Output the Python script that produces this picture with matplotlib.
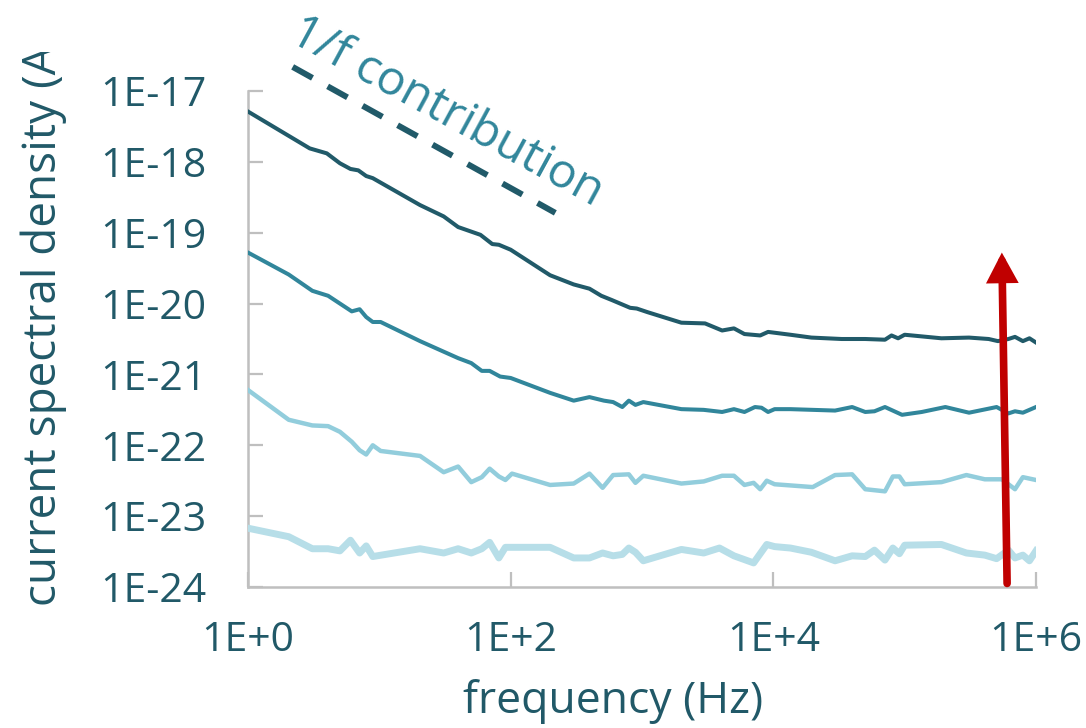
import numpy as np
import matplotlib
matplotlib.use("Agg")
import matplotlib.pyplot as plt
from matplotlib.ticker import FixedLocator, FuncFormatter, NullLocator
from matplotlib.transforms import Bbox, TransformedBbox

plt.rcParams["font.family"] = ["Open Sans", "DejaVu Sans"]

# values, stored as log10 (decades)
f1 = [0.00, 0.47, 0.60, 0.70, 0.78, 0.84, 0.90, 0.95, 1.31, 1.49, 1.60, 1.77, 1.86, 1.91,
      2.00, 2.30, 2.48, 2.60, 2.69, 2.77, 2.91, 2.96, 3.04, 3.30, 3.48, 3.61, 3.70, 3.78,
      3.90, 3.96, 4.13, 4.29, 4.52, 4.70, 4.85, 4.90, 4.95, 5.00, 5.28, 5.49, 5.64, 5.71,
      5.79, 5.84, 5.90, 5.95, 6.00]
s1 = [-17.29, -17.81, -17.88, -18.02, -18.10, -18.12, -18.20, -18.23, -18.61, -18.77,
      -18.92, -19.03, -19.16, -19.17, -19.24, -19.60, -19.73, -19.79, -19.89, -19.95,
      -20.06, -20.07, -20.12, -20.27, -20.28, -20.38, -20.35, -20.43, -20.45, -20.40,
      -20.44, -20.48, -20.50, -20.50, -20.51, -20.45, -20.49, -20.44, -20.49, -20.48,
      -20.50, -20.53, -20.50, -20.47, -20.53, -20.49, -20.55]

f2 = [0.00, 0.31, 0.49, 0.61, 0.70, 0.79, 0.85, 0.90, 0.95, 1.01, 1.31, 1.60, 1.70, 1.78,
      1.84, 1.92, 2.00, 2.30, 2.48, 2.60, 2.71, 2.78, 2.85, 2.90, 2.95, 3.01, 3.30, 3.47,
      3.61, 3.70, 3.78, 3.86, 3.91, 3.96, 4.01, 4.13, 4.47, 4.60, 4.70, 4.77, 4.85, 4.98,
      5.13, 5.31, 5.49, 5.70, 5.79, 5.84, 5.90, 6.00]
s2 = [-19.28, -19.59, -19.82, -19.89, -20.00, -20.11, -20.08, -20.19, -20.26, -20.26,
      -20.53, -20.77, -20.84, -20.95, -20.95, -21.03, -21.05, -21.26, -21.37, -21.32,
      -21.37, -21.39, -21.46, -21.37, -21.43, -21.39, -21.49, -21.50, -21.53, -21.49,
      -21.53, -21.46, -21.47, -21.53, -21.49, -21.49, -21.51, -21.46, -21.53, -21.52,
      -21.46, -21.57, -21.53, -21.46, -21.54, -21.46, -21.55, -21.52, -21.54, -21.46]

f3 = [0.00, 0.31, 0.49, 0.61, 0.70, 0.79, 0.85, 0.90, 0.95, 1.01, 1.31, 1.49, 1.60, 1.70,
      1.78, 1.84, 1.91, 1.96, 2.01, 2.30, 2.48, 2.60, 2.70, 2.78, 2.90, 2.95, 3.01, 3.30,
      3.47, 3.61, 3.70, 3.78, 3.85, 3.90, 3.95, 4.01, 4.30, 4.47, 4.60, 4.70, 4.85, 4.91,
      4.96, 5.00, 5.28, 5.47, 5.61, 5.74, 5.84, 5.90, 6.00]
s3 = [-21.22, -21.64, -21.72, -21.73, -21.81, -21.95, -22.07, -22.13, -22.00, -22.08,
      -22.15, -22.38, -22.30, -22.52, -22.45, -22.33, -22.44, -22.49, -22.40, -22.56,
      -22.54, -22.40, -22.60, -22.42, -22.41, -22.53, -22.43, -22.54, -22.51, -22.43,
      -22.43, -22.56, -22.53, -22.62, -22.50, -22.55, -22.59, -22.42, -22.41, -22.62,
      -22.65, -22.44, -22.44, -22.55, -22.52, -22.42, -22.48, -22.48, -22.62, -22.45,
      -22.49]

f4 = [0.00, 0.31, 0.49, 0.61, 0.70, 0.78, 0.85, 0.90, 0.95, 1.31, 1.49, 1.60, 1.70, 1.78,
      1.84, 1.91, 1.96, 2.00, 2.30, 2.48, 2.60, 2.70, 2.78, 2.85, 2.90, 2.95, 3.01, 3.30,
      3.47, 3.59, 3.70, 3.85, 3.95, 4.01, 4.13, 4.29, 4.47, 4.60, 4.70, 4.77, 4.85, 4.91,
      4.96, 5.00, 5.28, 5.47, 5.61, 5.70, 5.79, 5.84, 5.90, 5.95, 6.00]
s4 = [-23.17, -23.29, -23.46, -23.46, -23.49, -23.34, -23.52, -23.42, -23.57, -23.46,
      -23.52, -23.46, -23.52, -23.46, -23.37, -23.59, -23.44, -23.44, -23.44, -23.59,
      -23.59, -23.52, -23.56, -23.54, -23.45, -23.51, -23.63, -23.47, -23.52, -23.45,
      -23.56, -23.66, -23.40, -23.43, -23.45, -23.51, -23.63, -23.56, -23.57, -23.48,
      -23.62, -23.45, -23.53, -23.41, -23.40, -23.52, -23.55, -23.60, -23.48, -23.59,
      -23.55, -23.63, -23.49]

# 1/f guide line and the red arrow (log10 coords)
guide_f = [0.34, 2.34]
guide_s = [-16.66, -18.72]
arrow_f = [5.78, 5.74]
arrow_s = [-23.95, -19.28]

x_ticks = [0, 2, 4, 6]
y_ticks = [-24, -23, -22, -21, -20, -19, -18, -17]

colors = ["#215A69", "#31869B", "#92CDDC", "#B7DEE8"]
widths = [2.9, 2.9, 3.2, 5.0]
txt_col = "#215968"
grey = "#BFBFBF"

W, H = 1086, 728
fig = plt.figure(figsize=(W / 100, H / 100), dpi=100)
ax = fig.add_axes([248 / W, 1 - 587 / H, (1036 - 248) / W, (587 - 91) / H])

for fx, sy, c, lw in zip([f1, f2, f3, f4], [s1, s2, s3, s4], colors, widths):
    ax.plot(10 ** np.array(fx), 10 ** np.array(sy), color=c, lw=lw,
            solid_joinstyle="round", zorder=3)

ax.plot(10 ** np.array(guide_f), 10 ** np.array(guide_s), color=colors[0], lw=4.3,
        ls=(0, (3.8, 2.9)), clip_on=False, zorder=3)

ax.annotate("", xy=(10 ** arrow_f[1], 10 ** arrow_s[1]),
            xytext=(10 ** arrow_f[0], 10 ** arrow_s[0]),
            arrowprops=dict(arrowstyle="-|>,head_length=0.45,head_width=0.24",
                            color="#C00000", lw=5.5, shrinkA=0, shrinkB=0,
                            joinstyle="miter", mutation_scale=30), zorder=5)

ax.set_xscale("log")
ax.set_yscale("log")
ax.set_xlim(1, 1e6)
ax.set_ylim(1e-24, 1e-17)

ax.xaxis.set_major_locator(FixedLocator([10.0 ** t for t in x_ticks]))
ax.yaxis.set_major_locator(FixedLocator([10.0 ** t for t in y_ticks]))
ax.xaxis.set_minor_locator(NullLocator())
ax.yaxis.set_minor_locator(NullLocator())
ax.xaxis.set_major_formatter(FuncFormatter(lambda v, p: "1E{:+d}".format(int(round(np.log10(v))))))
ax.yaxis.set_major_formatter(FuncFormatter(lambda v, p: "1E{:d}".format(int(round(np.log10(v))))))

for side in ["top", "right"]:
    ax.spines[side].set_visible(False)
for side in ["left", "bottom"]:
    ax.spines[side].set_color(grey)
    ax.spines[side].set_linewidth(1.8)

ax.tick_params(axis="both", direction="in", length=10.5, width=1.6, color=grey,
               labelsize=29.5, labelcolor=txt_col)
ax.tick_params(axis="x", pad=24)
ax.tick_params(axis="y", pad=30)

ax.set_xlabel("frequency (Hz)", fontsize=32, color=txt_col)
ax.xaxis.set_label_coords(0.463, -0.185)

fig.text(287 / W, 1 - 40 / H, "1/f contribution", rotation=-28.5, rotation_mode="anchor",
         ha="left", va="baseline", fontsize=34.5, color=colors[1])

# y label runs off the top of the picture in the original, so clip it there
ylab = fig.text(42 / W, 1 - 606 / H, "current spectral density (A\u00b2/Hz)", rotation=90,
                ha="center", va="bottom", fontsize=33, color=txt_col)
ylab.set_clip_box(TransformedBbox(Bbox([[0, 0], [0.2, 1 - 52 / H]]), fig.transFigure))
ylab.set_clip_on(True)

fig.savefig("out.png", dpi=100)
